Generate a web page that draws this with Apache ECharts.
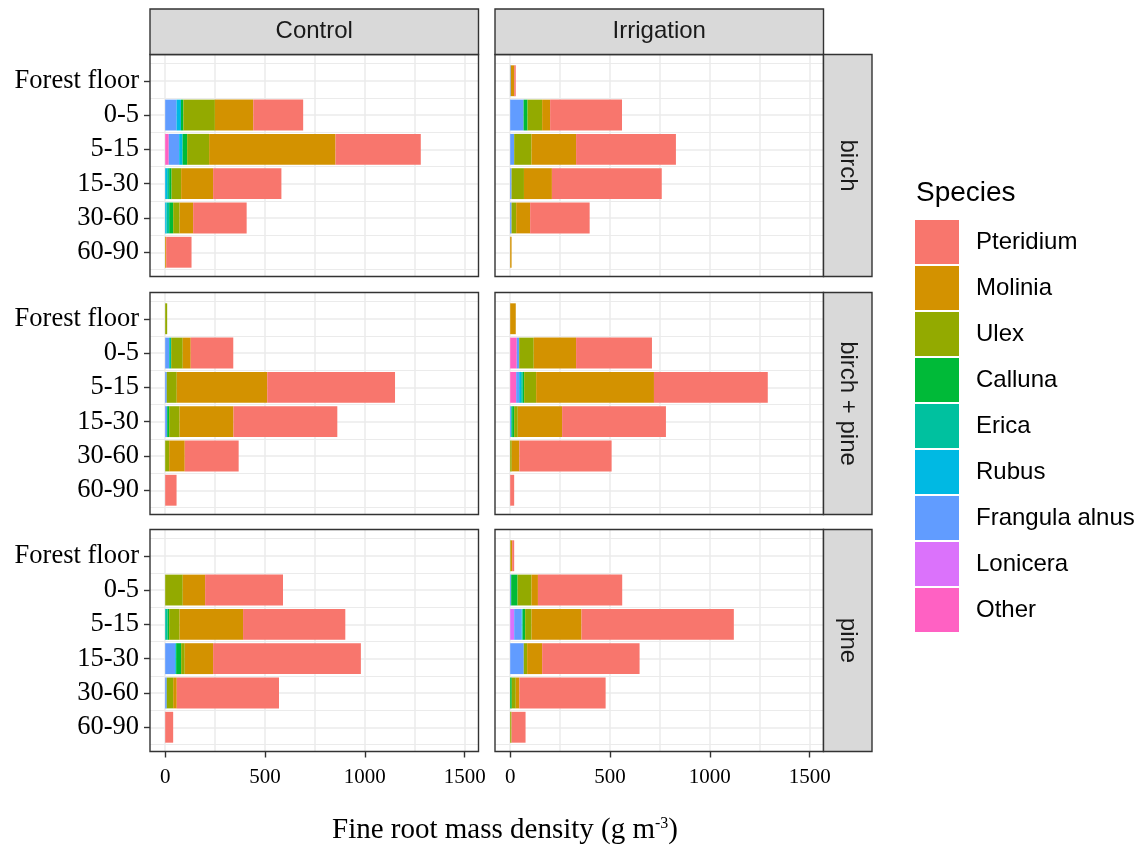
<!DOCTYPE html>
<html><head><meta charset="utf-8">
<script src="https://cdn.jsdelivr.net/npm/echarts@6/dist/echarts.min.js"></script>
<style>html,body{margin:0;padding:0;background:#fff}#c{width:1146px;height:850px}</style>
</head><body><div id="c"></div>
<script>
// ---------- data ----------
const depths = ['Forest floor', '0-5', '5-15', '15-30', '30-60', '60-90'];
// stacking order (left -> right)
const species = ['Other', 'Lonicera', 'Frangula alnus', 'Rubus', 'Erica', 'Calluna', 'Ulex', 'Molinia', 'Pteridium'];
const speciesColors = ['#FF61C3', '#DB72FB', '#619CFF', '#00B9E3', '#00C19F', '#00BA38', '#93AA00', '#D39200', '#F8766D'];
const legendOrder = ['Pteridium', 'Molinia', 'Ulex', 'Calluna', 'Erica', 'Rubus', 'Frangula alnus', 'Lonicera', 'Other'];
const treatments = ['Control', 'Irrigation'];
const stands = ['birch', 'birch + pine', 'pine'];
const xTickValues = [0, 500, 1000, 1500];
const xGridValues = [0, 250, 500, 750, 1000, 1250, 1500];

// rows = species (stacking order above), columns = depths
const birch_Control = [
  [0, 0, 18, 0, 0, 0],
  [0, 0, 0, 0, 0, 0],
  [0, 57, 52, 0, 0, 0],
  [0, 22, 17, 10, 7, 0],
  [0, 0, 0, 10, 13, 0],
  [0, 12, 23, 12, 20, 0],
  [0, 158, 110, 48, 32, 0],
  [0, 192, 633, 160, 68, 5],
  [0, 250, 427, 342, 268, 127]
];
const birch_Irrigation = [
  [0, 0, 0, 0, 0, 0],
  [0, 0, 0, 0, 0, 0],
  [3, 67, 20, 7, 7, 0],
  [0, 0, 0, 0, 0, 0],
  [0, 0, 0, 0, 0, 0],
  [0, 20, 0, 0, 0, 0],
  [0, 73, 87, 62, 23, 0],
  [17, 40, 223, 140, 70, 7],
  [8, 360, 500, 550, 298, 0]
];
const birchpine_Control = [
  [0, 0, 0, 0, 0, 0],
  [0, 0, 0, 0, 0, 0],
  [0, 20, 8, 10, 0, 0],
  [0, 0, 0, 0, 0, 0],
  [0, 10, 0, 0, 0, 0],
  [0, 0, 0, 10, 0, 0],
  [10, 58, 50, 52, 20, 0],
  [0, 40, 453, 270, 78, 0],
  [0, 213, 640, 520, 270, 57]
];
const birchpine_Irrigation = [
  [0, 33, 30, 0, 0, 0],
  [0, 0, 0, 0, 0, 0],
  [0, 12, 15, 5, 0, 0],
  [0, 0, 10, 0, 0, 0],
  [0, 0, 8, 5, 0, 0],
  [0, 0, 7, 10, 0, 0],
  [0, 73, 60, 18, 8, 0],
  [28, 212, 590, 222, 38, 0],
  [0, 380, 570, 520, 462, 20]
];
const pine_Control = [
  [0, 0, 0, 0, 0, 0],
  [0, 0, 0, 0, 0, 0],
  [0, 0, 0, 50, 8, 0],
  [0, 0, 0, 5, 0, 0],
  [0, 0, 12, 0, 0, 0],
  [0, 0, 8, 25, 0, 0],
  [0, 88, 52, 18, 32, 0],
  [0, 112, 318, 142, 18, 0],
  [0, 390, 512, 740, 512, 40]
];
const pine_Irrigation = [
  [0, 0, 0, 0, 0, 0],
  [0, 0, 20, 0, 0, 0],
  [0, 5, 37, 68, 0, 0],
  [0, 0, 5, 0, 0, 0],
  [0, 0, 0, 0, 0, 0],
  [0, 32, 13, 0, 8, 0],
  [3, 70, 32, 17, 20, 7],
  [7, 32, 250, 75, 18, 0],
  [10, 422, 763, 488, 432, 70]
];
const panelData = [
  [birch_Control, birch_Irrigation],
  [birchpine_Control, birchpine_Irrigation],
  [pine_Control, pine_Irrigation]
];

// ---------- layout ----------
const X_MIN = -76, X_MAX = 1569;
const PANEL_LEFT = [150, 495];
const PANEL_W = 328.5;
const PANEL_TOP = [54.5, 292.5, 529.5];
const PANEL_H = 222;
const STEP = 34.3;
const BAND_OFF = (PANEL_H - 6 * STEP) / 2 + 1;
const STRIP_TOP = 9;
const STRIP_RIGHT_X = 823.5, STRIP_RIGHT_W = 48.5;
const SANS = 'Liberation Sans, Arial, sans-serif';
const SERIF = 'Liberation Serif, Times New Roman, serif';
const GRID_COLOR = '#EBEBEB';

const grid = [], xAxis = [], yAxis = [], series = [], graphic = [];

for (let r = 0; r < 3; r++) {
  for (let c = 0; c < 2; c++) {
    const k = r * 2 + c;
    const left = PANEL_LEFT[c], top = PANEL_TOP[r];
    const bottomRow = r === 2, leftCol = c === 0;
    // frame grid (full panel) – vertical grid lines + x ticks
    grid.push({ left: left, top: top, width: PANEL_W, height: PANEL_H, containLabel: false });
    xAxis.push({
      type: 'value', gridIndex: 2 * k, min: X_MIN, max: X_MAX, position: 'bottom',
      axisLine: { show: false, onZero: false }, splitLine: { show: false },
      axisTick: { show: bottomRow, inside: false, customValues: xTickValues, length: 6, lineStyle: { color: '#333', width: 1.4 } },
      axisLabel: { show: bottomRow, customValues: xTickValues, formatter: v => String(v), fontFamily: SERIF, fontSize: 21, color: '#000', margin: 15 }
    });
    yAxis.push({ type: 'value', gridIndex: 2 * k, min: 0, max: 1, show: false, axisLine: { onZero: false } });
    series.push({
      type: 'scatter', xAxisIndex: 2 * k, yAxisIndex: 2 * k, data: [[X_MIN - 100, -1]], symbolSize: 0, silent: true,
      markLine: {
        silent: true, symbol: 'none', z: 0, animation: false, label: { show: false },
        lineStyle: { color: GRID_COLOR, type: 'solid', width: 1.5 },
        data: xGridValues.map(v => ({ xAxis: v }))
      }
    });
    // band grid – bars and horizontal grid lines
    grid.push({ left: left, top: top + BAND_OFF, width: PANEL_W, height: 6 * STEP, containLabel: false });
    xAxis.push({ type: 'value', gridIndex: 2 * k + 1, min: X_MIN, max: X_MAX, show: false, axisLine: { onZero: false } });
    yAxis.push({
      type: 'category', gridIndex: 2 * k + 1, data: depths, inverse: true, position: 'left',
      axisLine: { show: false, onZero: false },
      axisTick: { show: leftCol, inside: false, alignWithLabel: true, interval: 0, length: 6, lineStyle: { color: '#333', width: 1.4 } },
      axisLabel: { show: leftCol, interval: 0, hideOverlap: false, fontFamily: SERIF, fontSize: 26.5, color: '#000', margin: 11 },
      splitLine: { show: true, interval: 0, lineStyle: { color: GRID_COLOR, width: 1 } }
    });
    const data = panelData[r][c];
    species.forEach((sp, i) => {
      const s = {
        type: 'bar', name: sp, xAxisIndex: 2 * k + 1, yAxisIndex: 2 * k + 1, stack: 'p' + k,
        data: data[i], barCategoryGap: '10%', silent: true,
        itemStyle: { color: speciesColors[i] }
      };
      if (i === 0) {
        s.markLine = {
          silent: true, symbol: 'none', z: 1, animation: false, label: { show: false },
          lineStyle: { color: GRID_COLOR, type: 'solid', width: 1.5 },
          data: depths.map(d => ({ yAxis: d }))
        };
      }
      series.push(s);
    });
    // panel border
    graphic.push({
      type: 'rect', z: 100, silent: true,
      shape: { x: left, y: top, width: PANEL_W, height: PANEL_H },
      style: { fill: 'none', stroke: '#333', lineWidth: 1.4 }
    });
  }
}
// column strips
treatments.forEach((t, c) => {
  graphic.push({
    type: 'rect', z: 100, silent: true,
    shape: { x: PANEL_LEFT[c], y: STRIP_TOP, width: PANEL_W, height: PANEL_TOP[0] - STRIP_TOP },
    style: { fill: '#D9D9D9', stroke: '#333', lineWidth: 1.4 }
  });
  graphic.push({
    type: 'text', z: 101, silent: true,
    x: PANEL_LEFT[c] + PANEL_W / 2, y: (STRIP_TOP + PANEL_TOP[0]) / 2,
    style: { text: t, fontFamily: SANS, fontSize: 24, fill: '#1A1A1A', align: 'center', verticalAlign: 'middle' }
  });
});
// row strips
stands.forEach((s, r) => {
  graphic.push({
    type: 'rect', z: 100, silent: true,
    shape: { x: STRIP_RIGHT_X, y: PANEL_TOP[r], width: STRIP_RIGHT_W, height: PANEL_H },
    style: { fill: '#D9D9D9', stroke: '#333', lineWidth: 1.4 }
  });
  graphic.push({
    type: 'text', z: 101, silent: true,
    x: STRIP_RIGHT_X + STRIP_RIGHT_W / 2, y: PANEL_TOP[r] + PANEL_H / 2, rotation: -Math.PI / 2,
    style: { text: s, fontFamily: SANS, fontSize: 24, fill: '#1A1A1A', align: 'center', verticalAlign: 'middle' }
  });
});
// legend title
graphic.push({
  type: 'text', z: 101, silent: true, x: 916, y: 193,
  style: { text: 'Species', fontFamily: SANS, fontSize: 28, fill: '#000', align: 'left', verticalAlign: 'middle' }
});
// x axis title
graphic.push({
  type: 'text', z: 101, silent: true, x: 505, y: 830,
  style: {
    text: '{a|Fine root mass density (g m}{b|-3}{a|)}', align: 'center', verticalAlign: 'middle',
    rich: {
      a: { fontFamily: SERIF, fontSize: 29, fill: '#000' },
      b: { fontFamily: SERIF, fontSize: 16, fill: '#000', verticalAlign: 'top' }
    }
  }
});

const chart = echarts.init(document.getElementById('c'), null, { renderer: 'canvas' });
chart.setOption({
  animation: false,
  backgroundColor: '#fff',
  grid, xAxis, yAxis, series, graphic,
  legend: {
    data: legendOrder, orient: 'vertical', left: 915, top: 220, padding: 0,
    itemWidth: 44, itemHeight: 44, itemGap: 2, icon: 'rect', selectedMode: false,
    textStyle: { fontFamily: SANS, fontSize: 24, color: '#000', padding: [0, 0, 0, 12] }
  }
});
</script>
</body></html>
